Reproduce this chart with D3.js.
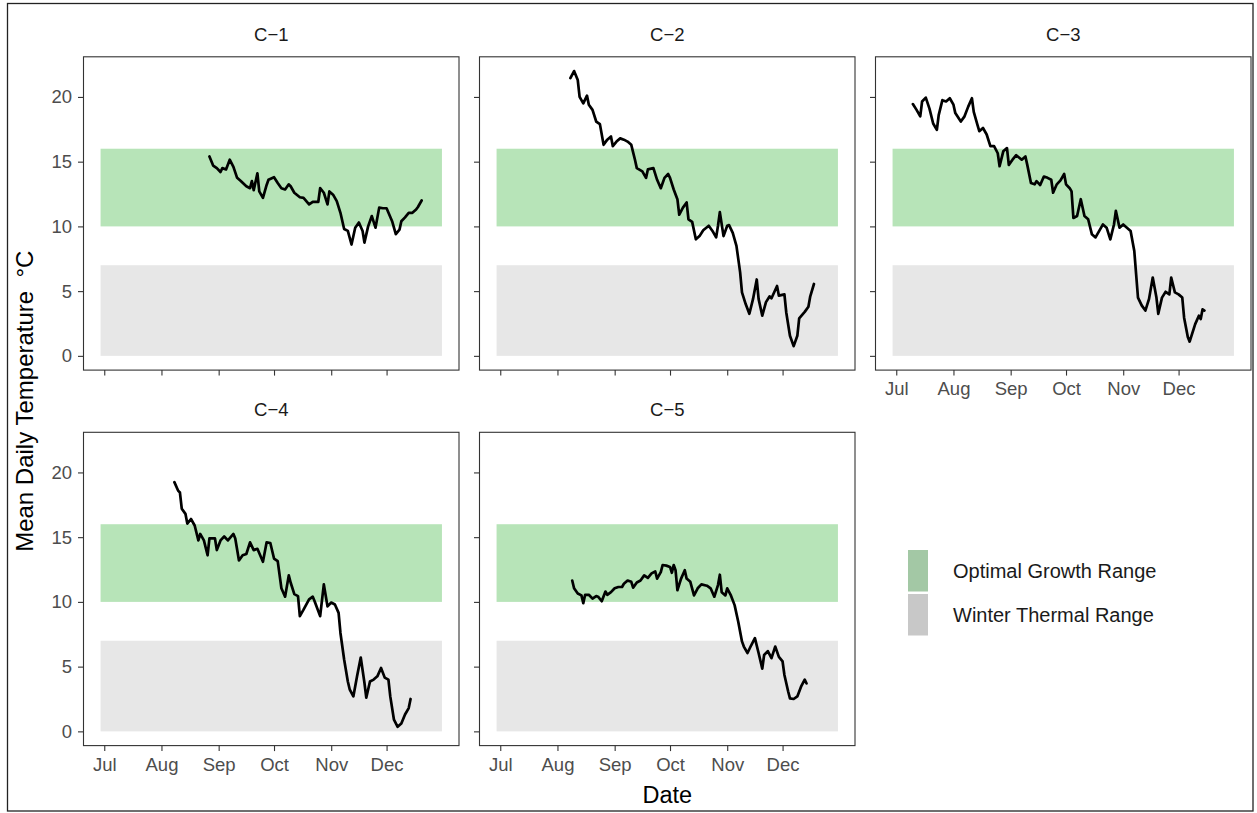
<!DOCTYPE html>
<html>
<head>
<meta charset="utf-8">
<script src="https://cdn.jsdelivr.net/npm/d3@7"></script>
<style>
  body { margin: 0; background: #fff; }
  svg { display: block; font-family: "Liberation Sans", Arial, Helvetica, sans-serif; }
</style>
</head>
<body>
<svg id="chart" width="1257" height="813"></svg>
<script>
// ---- data -------------------------------------------------------------
const seasonYear = 2021;
const sites = ["C-1", "C-2", "C-3", "C-4", "C-5"];

const c1Dates = ["08-27","08-29","08-31","09-02","09-03","09-05","09-07","09-09","09-11","09-13","09-16","09-18","09-19","09-20","09-22","09-23","09-25","09-27","09-28","10-01","10-03","10-05","10-07","10-09","10-10","10-12","10-15","10-17","10-20","10-22","10-25","10-26","10-28","10-30","10-31","11-02","11-04","11-06","11-08","11-10","11-12","11-14","11-16","11-18","11-19","11-21","11-23","11-25","11-27","11-29","12-01","12-04","12-06","12-08","12-09","12-11","12-13","12-15","12-17","12-18","12-20"];
const c1Temps = [15.4,14.7,14.5,14.2,14.5,14.4,15.15,14.6,13.75,13.5,13.1,12.95,13.5,12.8,14.1,12.7,12.2,13.2,13.6,13.8,13.35,12.95,12.85,13.25,13.1,12.6,12.25,12.2,11.7,11.9,11.9,12.95,12.6,11.7,12.7,12.45,11.95,11.05,9.8,9.65,8.6,9.9,10.3,9.65,8.75,10.0,10.8,9.9,11.45,11.4,11.4,10.4,9.4,9.75,10.4,10.7,11.05,11.05,11.3,11.5,12.0];

const c2Dates = ["08-08","08-10","08-12","08-13","08-15","08-17","08-18","08-20","08-22","08-24","08-26","08-28","08-30","08-31","09-02","09-04","09-06","09-08","09-10","09-12","09-13","09-16","09-18","09-19","09-22","09-24","09-26","09-28","09-30","10-01","10-03","10-05","10-06","10-08","10-10","10-11","10-13","10-15","10-17","10-19","10-22","10-24","10-26","10-27","10-28","10-30","11-01","11-02","11-04","11-06","11-08","11-09","11-11","11-13","11-15","11-17","11-18","11-20","11-22","11-24","11-25","11-28","11-29","12-02","12-03","12-05","12-07","12-09","12-10","12-13","12-15","12-16","12-18"];
const c2Temps = [21.45,22.0,21.3,20.0,19.5,20.1,19.4,19.0,18.1,17.9,16.3,16.7,16.95,16.2,16.55,16.8,16.7,16.55,16.3,15.15,14.5,14.25,13.75,14.4,14.5,13.6,12.95,13.75,14.05,13.75,12.85,12.1,10.9,11.45,11.85,10.55,10.35,9.0,9.25,9.7,10.05,9.65,9.15,10.05,11.1,9.25,10.05,10.1,9.5,8.5,6.45,4.9,4.0,3.25,4.4,5.9,4.4,3.1,4.15,4.6,4.45,5.4,4.65,4.75,3.35,1.55,0.75,1.55,2.9,3.4,3.8,4.6,5.55];

const c3Dates = ["07-10","07-12","07-14","07-15","07-17","07-19","07-21","07-23","07-24","07-26","07-28","07-30","08-01","08-02","08-05","08-07","08-09","08-11","08-12","08-14","08-15","08-17","08-19","08-21","08-23","08-25","08-26","08-28","08-30","08-31","09-02","09-04","09-07","09-09","09-10","09-12","09-14","09-15","09-17","09-19","09-21","09-23","09-24","09-26","09-28","09-30","10-01","10-03","10-04","10-05","10-07","10-09","10-11","10-13","10-15","10-17","10-19","10-21","10-23","10-25","10-27","10-28","10-30","11-01","11-03","11-05","11-07","11-08","11-09","11-11","11-13","11-15","11-17","11-19","11-20","11-22","11-24","11-26","11-27","11-29","12-01","12-03","12-04","12-06","12-07","12-10","12-12","12-13","12-14","12-15"];
const c3Temps = [19.45,19.0,18.5,19.65,19.95,19.1,17.95,17.45,18.6,19.75,19.65,19.9,19.4,18.75,18.1,18.5,19.25,19.9,18.85,17.85,17.35,17.6,17.1,16.2,16.2,15.65,14.65,15.8,16.05,14.75,15.15,15.5,15.15,15.4,14.75,13.35,13.25,13.5,13.2,13.85,13.75,13.6,12.6,13.25,13.55,14.05,13.25,12.95,12.7,10.65,10.8,12.1,10.8,10.55,9.4,9.15,9.65,10.15,9.9,9.0,10.15,11.2,9.9,10.15,9.9,9.65,8.1,6.3,4.5,3.9,3.5,4.4,6.05,4.5,3.25,4.5,4.95,4.75,6.05,4.9,4.75,4.5,2.95,1.45,1.1,2.45,3.1,2.85,3.6,3.5];

const c4Dates = ["08-08","08-10","08-11","08-12","08-14","08-15","08-17","08-19","08-21","08-22","08-24","08-26","08-27","08-30","08-31","09-02","09-04","09-06","09-09","09-10","09-12","09-14","09-16","09-18","09-20","09-22","09-25","09-27","09-29","10-01","10-03","10-05","10-07","10-09","10-10","10-12","10-14","10-15","10-17","10-20","10-22","10-23","10-26","10-28","10-30","11-01","11-03","11-05","11-06","11-08","11-10","11-11","11-13","11-15","11-17","11-19","11-20","11-22","11-24","11-26","11-28","11-30","12-02","12-03","12-05","12-07","12-09","12-11","12-13","12-14"];
const c4Temps = [19.25,18.6,18.45,17.2,16.8,16.05,16.4,15.9,14.75,15.25,14.75,13.6,14.9,14.9,14.0,14.75,15.05,14.75,15.25,14.9,13.2,13.6,13.7,14.6,14.0,14.1,13.1,14.6,14.55,13.35,13.15,11.05,10.4,12.05,11.5,10.6,10.45,8.9,9.4,10.2,10.4,10.05,8.9,11.35,9.65,9.95,9.8,9.15,7.6,5.55,3.85,3.25,2.7,4.25,5.7,3.75,2.6,3.85,4.0,4.25,4.9,4.15,4.0,2.7,0.9,0.35,0.6,1.3,1.8,2.5];

const c5Dates = ["08-09","08-10","08-12","08-14","08-15","08-16","08-18","08-20","08-22","08-23","08-25","08-27","08-28","08-30","09-01","09-03","09-05","09-06","09-08","09-10","09-11","09-13","09-15","09-17","09-19","09-21","09-23","09-24","09-26","09-27","09-29","10-01","10-02","10-03","10-04","10-05","10-07","10-09","10-10","10-12","10-14","10-16","10-18","10-21","10-23","10-25","10-27","10-28","10-29","10-31","11-01","11-03","11-05","11-07","11-09","11-10","11-12","11-14","11-16","11-18","11-20","11-21","11-23","11-25","11-27","11-29","12-01","12-02","12-04","12-05","12-07","12-09","12-11","12-13","12-14"];
const c5Temps = [11.65,11.05,10.65,10.5,9.9,10.55,10.55,10.25,10.45,10.4,10.05,10.8,10.55,10.75,11.05,11.15,11.15,11.4,11.65,11.55,11.1,11.5,11.65,12.05,11.85,12.2,12.35,11.8,12.3,12.85,12.8,12.7,12.25,12.85,12.45,10.9,11.8,12.45,11.8,11.55,10.5,11.05,11.35,11.25,11.05,10.4,11.3,12.1,10.75,10.5,11.05,10.5,9.75,8.45,6.95,6.55,6.05,6.65,7.2,6.05,4.85,5.9,6.2,5.65,6.55,5.75,5.4,4.35,3.1,2.55,2.5,2.7,3.45,4.0,3.7];

const siteDates = [c1Dates, c2Dates, c3Dates, c4Dates, c5Dates];
const siteTemps = [c1Temps, c2Temps, c3Temps, c4Temps, c5Temps];

// reference temperature ranges shaded in every panel
const rangeNames = ["Optimal Growth Range", "Winter Thermal Range"];
const rangeLow = [10, 0];
const rangeHigh = [16, 7];
const rangeStart = "06-29";
const rangeEnd = "12-31";

const monthTicks = ["07-01", "08-01", "09-01", "10-01", "11-01", "12-01"];
const monthLabels = ["Jul", "Aug", "Sep", "Oct", "Nov", "Dec"];
const tempTicks = [0, 5, 10, 15, 20];

// ---- layout -----------------------------------------------------------
const parse = s => d3.utcParse("%Y-%m-%d")(seasonYear + "-" + s);
const panelW = 375.5, panelH = 313.3;
const colX = [83.5, 479.5, 875.5];
const rowY = [56.8, 432.3];
const nCols = 3;
const bandFill = ["#b7e4b8", "#e7e7e7"];
const keyFill = ["#a3c8a5", "#c8c8c8"];

const series = sites.map((name, i) => ({
  name,
  points: siteDates[i].map((d, j) => ({ date: parse(d), temp: siteTemps[i][j] }))
}));

// shared scales, padded 5% like the default continuous expansion
const xExtent = [parse(rangeStart), parse(rangeEnd)];
const xSpan = xExtent[1] - xExtent[0];
const x = d3.scaleUtc()
  .domain([new Date(+xExtent[0] - 0.05 * xSpan), new Date(+xExtent[1] + 0.05 * xSpan)])
  .range([0, panelW]);

const yMax = d3.max([d3.max(siteTemps.flat()), d3.max(rangeHigh)]);
const yMin = d3.min([d3.min(siteTemps.flat()), d3.min(rangeLow)]);
const yPad = 0.05 * (yMax - yMin);
const y = d3.scaleLinear().domain([yMin - yPad, yMax + yPad]).range([panelH, 0]);

const svg = d3.select("#chart");
svg.append("rect").attr("width", 1257).attr("height", 813).attr("fill", "#fff");
svg.append("rect")
  .attr("x", 7.5).attr("y", 3.5).attr("width", 1245.5).attr("height", 807.5)
  .attr("fill", "none").attr("stroke", "#222").attr("stroke-width", 1.3);

const line = d3.line().x(d => x(d.date)).y(d => y(d.temp));
const tickMonths = monthTicks.map(parse);

series.forEach((s, i) => {
  const col = i % nCols, row = Math.floor(i / nCols);
  const g = svg.append("g").attr("transform", `translate(${colX[col]},${rowY[row]})`);

  // shaded ranges
  g.selectAll("rect.band")
    .data(rangeNames.map((n, k) => ({ lo: rangeLow[k], hi: rangeHigh[k], k })))
    .join("rect")
    .attr("class", "band")
    .attr("x", x(xExtent[0]))
    .attr("width", x(xExtent[1]) - x(xExtent[0]))
    .attr("y", d => y(d.hi))
    .attr("height", d => y(d.lo) - y(d.hi))
    .attr("fill", d => bandFill[d.k]);

  // temperature trace
  g.append("path")
    .datum(s.points)
    .attr("d", line)
    .attr("fill", "none")
    .attr("stroke", "#000")
    .attr("stroke-width", 2.7)
    .attr("stroke-linejoin", "round")
    .attr("stroke-linecap", "round");

  // axes: ticks on every panel, labels only on outer ones
  const showX = (i + nCols >= sites.length);
  const showY = (col === 0);

  const xAxis = g.append("g")
    .attr("transform", `translate(0,${panelH})`)
    .call(d3.axisBottom(x).tickValues(tickMonths)
      .tickFormat((d, k) => showX ? monthLabels[k] : "")
      .tickSize(5.5).tickPadding(6.5));
  const yAxis = g.append("g")
    .call(d3.axisLeft(y).tickValues(tempTicks)
      .tickFormat(d => showY ? d : "")
      .tickSize(5.5).tickPadding(6));

  [xAxis, yAxis].forEach(a => {
    a.select(".domain").remove();
    a.selectAll(".tick line").attr("stroke", "#333").attr("stroke-width", 1.1);
    a.selectAll(".tick text")
      .attr("fill", "#4d4d4d")
      .style("font-size", "18.5px")
      .style("font-family", "'Liberation Sans', Arial, sans-serif");
  });

  // panel frame
  g.append("rect")
    .attr("width", panelW).attr("height", panelH)
    .attr("fill", "none").attr("stroke", "#333").attr("stroke-width", 1.1);

  // facet title
  g.append("text")
    .attr("x", panelW / 2).attr("y", -16)
    .attr("text-anchor", "middle")
    .attr("fill", "#1a1a1a")
    .style("font-size", "18.5px")
    .text(s.name.replace("-", "\u2212"));
});

// axis titles
const plotLeft = colX[0], plotRight = colX[2] + panelW;
svg.append("text")
  .attr("x", (plotLeft + plotRight) / 2).attr("y", 803)
  .attr("text-anchor", "middle").attr("fill", "#000")
  .style("font-size", "23.5px")
  .text("Date");
svg.append("text")
  .attr("transform", `translate(33,${(rowY[0] + rowY[1] + panelH) / 2}) rotate(-90)`)
  .attr("text-anchor", "middle").attr("fill", "#000")
  .style("font-size", "24px")
  .style("white-space", "pre")
  .text("Mean Daily Temperature  \u00B0C");

// legend
const legend = svg.append("g").attr("transform", "translate(908,550)");
rangeNames.forEach((n, k) => {
  const row = legend.append("g").attr("transform", `translate(0,${k * 44})`);
  row.append("rect").attr("width", 20).attr("height", 41.5).attr("fill", keyFill[k]);
  row.append("text")
    .attr("x", 45).attr("y", 21)
    .attr("dy", "0.35em")
    .attr("fill", "#1a1a1a")
    .style("font-size", "20px")
    .text(n);
});
</script>
</body>
</html>
